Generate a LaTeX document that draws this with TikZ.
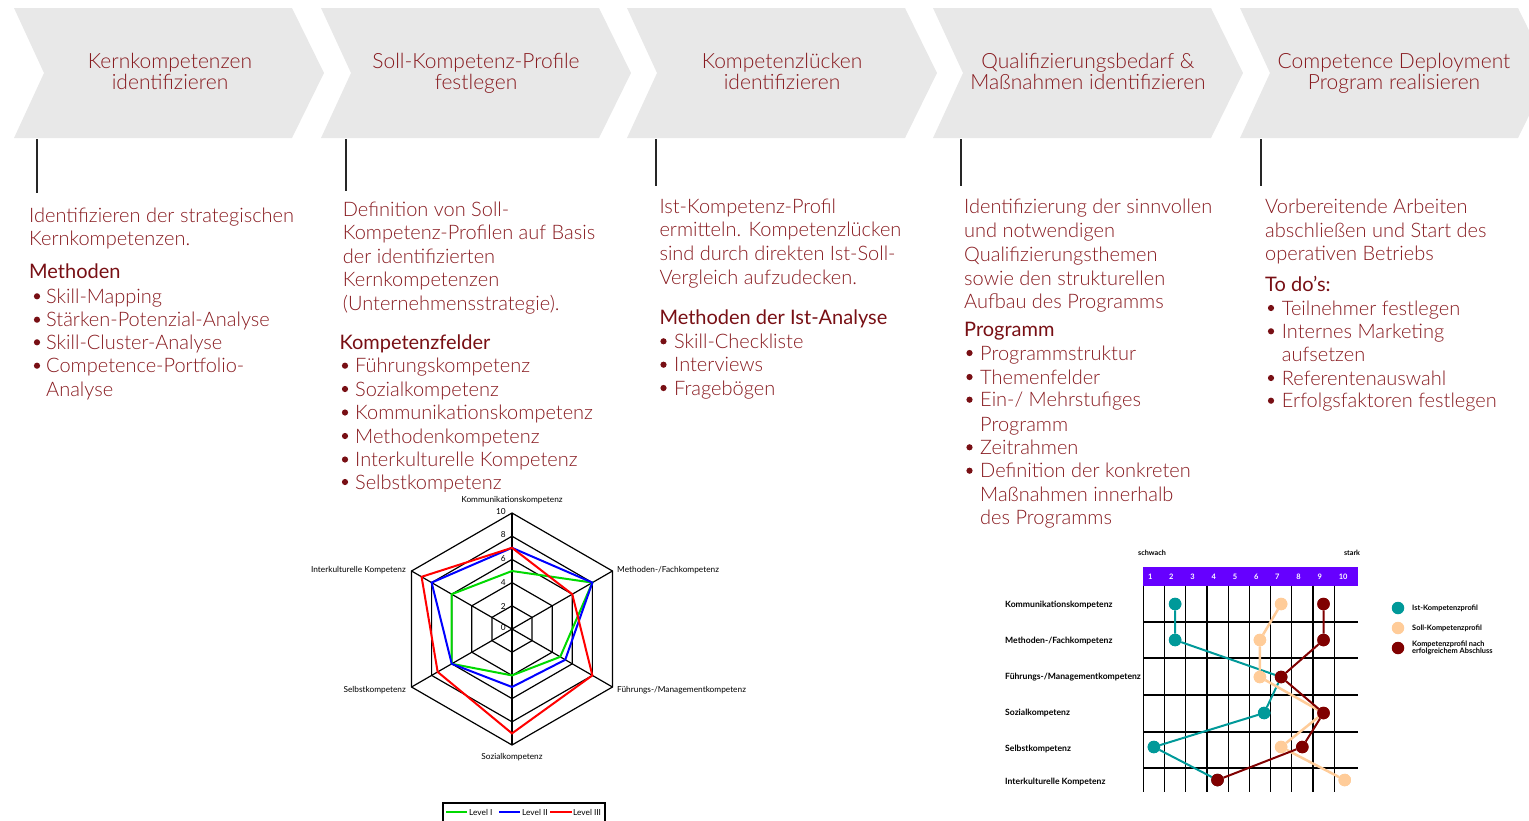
\documentclass[tikz,border=0pt]{standalone}
\usepackage{fontspec}
\setmainfont{Lato}
\newfontfamily\lightfont{Lato Light}
\definecolor{dred}{RGB}{135,25,30}
\definecolor{hred}{RGB}{120,15,20}
\definecolor{chevgray}{RGB}{232,232,232}
\definecolor{teal2}{RGB}{0,153,153}
\definecolor{peach}{RGB}{255,204,153}
\definecolor{maroon2}{RGB}{128,0,0}
\definecolor{barviolet}{RGB}{102,0,255}
\tikzset{
  chev/.style={fill=chevgray, draw=none},
  hdr/.style={font=\lightfont\fontsize{21}{21}\selectfont, text=dred, inner sep=0, anchor=base},
  body/.style={font=\lightfont\fontsize{20}{20}\selectfont, text=dred, inner sep=0, anchor=base west},
  shead/.style={font=\fontsize{20}{20}\selectfont, text=hred, inner sep=0, anchor=base west},
  bul/.style={fill=hred},
  vline/.style={draw=black!85, line width=1.3},
  rgrid/.style={draw=black, line width=1.2},
  rlab/.style={font=\fontsize{8.3}{9}\selectfont, inner sep=0},
  plab/.style={font=\bfseries\fontsize{8.6}{9}\selectfont, inner sep=0, anchor=west},
  pgrid/.style={draw=black, line width=1.2},
  dotc/.style={circle, inner sep=0, minimum size=12.5pt},
  lglab/.style={font=\bfseries\fontsize{7.4}{8}\selectfont, inner sep=0, anchor=west, align=left},
}
\begin{document}
\begin{tikzpicture}[x=1pt,y=-1pt]
\useasboundingbox (0,0) rectangle (1529,820);
\clip (0,0) rectangle (1529,820);

% chevrons
\foreach \x in {14,321,627,933,1240}{
  \fill[chev] (\x,8) -- (\x+278,8) -- (\x+310,73) -- (\x+278,138) -- (\x,138) -- (\x+30,73) -- cycle;
}
% header texts
\node[hdr] (h1a) at (170,68) {Kernkompetenzen};
\node[hdr] (h1b) at (170,89.5) {identifizieren};
\node[hdr] (h2a) at (476,68) {Soll-Kompetenz-Profile};
\node[hdr] (h2b) at (476,89.5) {festlegen};
\node[hdr] (h3a) at (782,68) {Kompetenzlücken};
\node[hdr] (h3b) at (782,89.5) {identifizieren};
\node[hdr] (h4a) at (1088,68) {Qualifizierungsbedarf \&};
\node[hdr] (h4b) at (1088,89.5) {Maßnahmen identifizieren};
\node[hdr] (h5a) at (1394,68) {Competence Deployment};
\node[hdr] (h5b) at (1394,89.5) {Program realisieren};

% vertical lines
\foreach \n/\x/\yb in {1/37/193,2/346/191,3/656/186,4/961/186,5/1261/186}{
  \coordinate (vt\n) at (\x,139);
  \coordinate (vb\n) at (\x,\yb);
  \draw[vline] (vt\n) -- (vb\n);
}

% column 1
\node[body] (c1a) at (29,222.3) {Identifizieren der strategischen};
\node[body] (c1b) at (29,245.5) {Kernkompetenzen.};
\node[shead] (c1h) at (29,278.3) {Methoden};
\foreach \n/\y/\t in {1/303.3/Skill-Mapping,2/326.7/Stärken-Potenzial-Analyse,3/349.3/Skill-Cluster-Analyse,4/372.7/Competence-Portfolio-}{
  \fill[bul] (37,\y-7) circle (3.1);
  \node[body] (c1i\n) at (46,\y) {\t};
}
\node[body] (c1i5) at (46,396) {Analyse};

% column 2
\node[body] (c2a) at (342.7,216.7) {Definition von Soll-};
\node[body] (c2b) at (342.7,239.8) {Kompetenz-Profilen auf Basis};
\node[body] (c2c) at (342.7,263) {der identifizierten};
\node[body] (c2d) at (342.7,286.5) {Kernkompetenzen};
\node[body] (c2e) at (342.7,310) {(Unternehmensstrategie).};
\node[shead] (c2h) at (339.3,349.3) {Kompetenzfelder};
\foreach \n/\y/\t in {1/372.7/Führungskompetenz,2/396/Sozialkompetenz,3/419.5/Kommunikationskompetenz,4/443/Methodenkompetenz,5/466.5/Interkulturelle Kompetenz,6/489/Selbstkompetenz}{
  \fill[bul] (345,\y-7) circle (3.1);
  \node[body] (c2i\n) at (355,\y) {\t};
}

% column 3
\node[body] (c3a) at (659.3,213.3) {Ist-Kompetenz-Profil};
\node[body] (c3b) at (659.3,236.7) {ermitteln. Kompetenzlücken};
\node[body] (c3c) at (659.3,260) {sind durch direkten Ist-Soll-};
\node[body] (c3d) at (659.3,284) {Vergleich aufzudecken.};
\node[shead] (c3h) at (659.3,324.3) {Methoden der Ist-Analyse};
\foreach \n/\y/\t in {1/348.3/Skill-Checkliste,2/371.7/Interviews,3/395/Fragebögen}{
  \fill[bul] (663.5,\y-7) circle (3.1);
  \node[body] (c3i\n) at (674,\y) {\t};
}

% column 4
\node[body] (c4a) at (964,213.3) {Identifizierung der sinnvollen};
\node[body] (c4b) at (964,237) {und notwendigen};
\node[body] (c4c) at (964,261) {Qualifizierungsthemen};
\node[body] (c4d) at (964,285) {sowie den strukturellen};
\node[body] (c4e) at (964,308.3) {Aufbau des Programms};
\node[shead] (c4h) at (964,336.7) {Programm};
\foreach \n/\y/\t in {1/360/Programmstruktur,2/384/Themenfelder,3/406.7/{Ein-/ Mehrstufiges},5/454.3/Zeitrahmen,6/477.7/Definition der konkreten}{
  \fill[bul] (969.5,\y-7) circle (3.1);
  \node[body] (c4i\n) at (980,\y) {\t};
}
\node[body] (c4i4) at (980,431) {Programm};
\node[body] (c4i7) at (980,501) {Maßnahmen innerhalb};
\node[body] (c4i8) at (980,524.3) {des Programms};

% column 5
\node[body] (c5a) at (1265,213.3) {Vorbereitende Arbeiten};
\node[body] (c5b) at (1265,237) {abschließen und Start des};
\node[body] (c5c) at (1265,260) {operativen Betriebs};
\node[shead] (c5h) at (1265,291.7) {To do’s:};
\foreach \n/\y/\t in {1/315/Teilnehmer festlegen,2/338.3/Internes Marketing,4/385/Referentenauswahl,5/407.7/Erfolgsfaktoren festlegen}{
  \fill[bul] (1271,\y-7) circle (3.1);
  \node[body] (c5i\n) at (1281.7,\y) {\t};
}
\node[body] (c5i3) at (1281.7,361.7) {aufsetzen};

% ---------------- radar chart ----------------
\fill[white] (300,491.5) rectangle (760,820);
\begin{scope}[shift={(512,629)}, yscale=-1]
  \def\u{11.6}
  \foreach \v in {2,4,6,8,10}{
    \draw[rgrid] (90:\v*\u) -- (30:\v*\u) -- (-30:\v*\u) -- (-90:\v*\u) -- (210:\v*\u) -- (150:\v*\u) -- cycle;
  }
  \foreach \a in {90,30,-30,-90,210,150}{
    \draw[rgrid] (0,0) -- (\a:10*\u);
  }
  \draw[green!85!black, line width=2] (90:5*\u) -- (30:8*\u) -- (-30:4.8*\u) -- (-90:4*\u) -- (210:6*\u) -- (150:6*\u) -- cycle;
  \draw[blue, line width=2] (90:7*\u) -- (30:8*\u) -- (-30:5.3*\u) -- (-90:5*\u) -- (210:6*\u) -- (150:8*\u) -- cycle;
  \draw[red, line width=2] (90:7*\u) -- (30:6*\u) -- (-30:8*\u) -- (-90:9*\u) -- (210:7.4*\u) -- (150:9*\u) -- cycle;
\end{scope}
\foreach \v/\yy in {10/512,8/535,6/559,4/583,2/606,0/628}{
  \node[rlab, anchor=east] (rn\v) at (506,\yy) {\v};
}
\node[rlab] (rk) at (512,500) {Kommunikationskompetenz};
\node[rlab, anchor=west] (rm) at (617,570) {Methoden-/Fachkompetenz};
\node[rlab, anchor=west] (rf) at (617,690) {Führungs-/Managementkompetenz};
\node[rlab] (rs) at (512,757) {Sozialkompetenz};
\node[rlab, anchor=east] (rse) at (406,690) {Selbstkompetenz};
\node[rlab, anchor=east] (ri) at (406,570) {Interkulturelle Kompetenz};
% legend
\draw[line width=1.5] (443,803) rectangle (605,830);
\draw[green!85!black, line width=2] (446,812) -- (467,812);
\node[rlab, anchor=west] (lg1) at (469,812) {Level I};
\draw[blue, line width=2] (499,812) -- (520,812);
\node[rlab, anchor=west] (lg2) at (522,812) {Level II};
\draw[red, line width=2] (550,812) -- (572,812);
\node[rlab, anchor=west] (lg3) at (573,812) {Level III};

% ---------------- profile chart ----------------
\fill[barviolet] (1143.3,567.3) rectangle (1358.3,585.7);
\foreach \k in {1,...,10}{
  \node[font=\bfseries\fontsize{7.5}{8}\selectfont, text=white, inner sep=0, anchor=west] (num\k) at ({1143.3+(\k-1)*21.2+4.5},576.5) {\k};
}
\foreach \k in {0,...,9}{
  \draw[pgrid] ({1143.3+\k*21.2},585.7) -- ({1143.3+\k*21.2},792);
}
\foreach \yy in {622,658,695,732,768}{
  \draw[pgrid] (1143.3,\yy) -- (1358.3,\yy);
}
\node[font=\bfseries\fontsize{7.2}{8}\selectfont, inner sep=0] (schw) at (1152,553) {schwach};
\node[font=\bfseries\fontsize{7.2}{8}\selectfont, inner sep=0] (stark) at (1352,553) {stark};
\node[plab] (p1) at (1005,605) {Kommunikationskompetenz};
\node[plab] (p2) at (1005,641) {Methoden-/Fachkompetenz};
\node[plab] (p3) at (1005,677) {Führungs-/Managementkompetenz};
\node[plab] (p4) at (1005,713) {Sozialkompetenz};
\node[plab] (p5) at (1005,749) {Selbstkompetenz};
\node[plab] (p6) at (1005,782) {Interkulturelle Kompetenz};

% Ist
\foreach \n/\v/\yy in {1/2/604,2/2/640,3/7/677,4/6.2/713,5/1/747,6/4/780}{
  \node[dotc, fill=teal2] (i\n) at ({1143.3+(\v-0.5)*21.2},\yy) {};
}
\draw[teal2, line width=2] (i1) -- (i2) -- (i3) -- (i4) -- (i5) -- (i6);
% Soll
\foreach \n/\v/\yy in {1/7/604,2/6/640,3/6/677,4/9/713,5/7/747,6/10/780}{
  \node[dotc, fill=peach] (s\n) at ({1143.3+(\v-0.5)*21.2},\yy) {};
}
\draw[peach, line width=2.5] (s1) -- (s2) -- (s3) -- (s4) -- (s5) -- (s6);
% nach Abschluss
\foreach \n/\v/\yy in {1/9/604,2/9/640,3/7/677,4/9/713,5/8/747,6/4/780}{
  \node[dotc, fill=maroon2] (a\n) at ({1143.3+(\v-0.5)*21.2},\yy) {};
}
\draw[maroon2, line width=2] (a1) -- (a2) -- (a3) -- (a4) -- (a5) -- (a6);
% redraw circles on top
\foreach \n/\v/\yy in {1/2/604,2/2/640,4/6.2/713,5/1/747}{
  \fill[teal2] ({1143.3+(\v-0.5)*21.2},\yy) circle (6.25);
}
\foreach \n/\v/\yy in {1/7/604,2/6/640,3/6/677,5/7/747,6/10/780}{
  \fill[peach] ({1143.3+(\v-0.5)*21.2},\yy) circle (6.25);
}
\foreach \n/\v/\yy in {1/9/604,2/9/640,3/7/677,4/9/713,5/8/747,6/4/780}{
  \fill[maroon2] ({1143.3+(\v-0.5)*21.2},\yy) circle (6.25);
}
% legend
\node[dotc, fill=teal2] (lgi) at (1398,608) {};
\node[dotc, fill=peach] (lgs) at (1398,628) {};
\node[dotc, fill=maroon2] (lga) at (1398,648) {};
\node[lglab] (lgit) at (1412,608) {Ist-Kompetenzprofil};
\node[lglab] (lgst) at (1412,628) {Soll-Kompetenzprofil};
\node[lglab, font=\bfseries\fontsize{7.4}{7.6}\selectfont] (lgat) at (1412,648) {Kompetenzprofil nach\\erfolgreichem Abschluss};
\end{tikzpicture}
\end{document}
